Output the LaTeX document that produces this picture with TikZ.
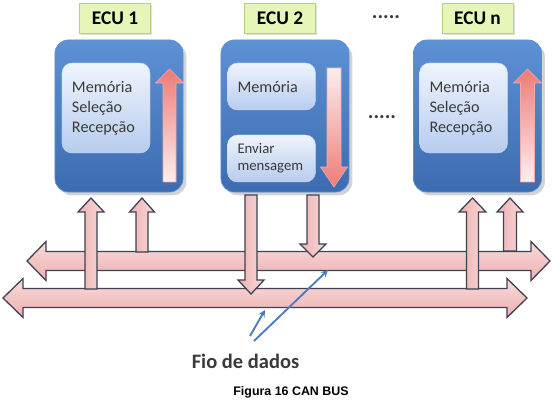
\documentclass[tikz,border=0pt]{standalone}
\usepackage{fontspec}
\setmainfont{Carlito}
\newfontfamily\arialfont{Liberation Sans}
\usetikzlibrary{shadows}

\definecolor{ecutop}{HTML}{5D90D5}
\definecolor{ecubot}{HTML}{3D6CB0}
\definecolor{ecuedge}{HTML}{5E8FD2}
\definecolor{memotop}{HTML}{EEF4FC}
\definecolor{memobot}{HTML}{B7CCEE}
\definecolor{memoedge}{HTML}{C9DAF3}
\definecolor{lblfill}{HTML}{E6F6B8}
\definecolor{lbledge}{HTML}{B5D07E}
\definecolor{txtgray}{HTML}{3A3A3A}
\definecolor{pinktop}{HTML}{F9DADA}
\definecolor{pinkbot}{HTML}{EDB0B0}
\definecolor{wireedge}{HTML}{3E4254}
\definecolor{flowred}{HTML}{EE7B76}
\definecolor{flowlight}{HTML}{FDEEEE}
\definecolor{flowedge}{HTML}{F2A9A9}
\definecolor{ptrblue}{HTML}{4A7EBB}

% fat double arrow: left tip, right tip, y, head length
\newcommand{\hbus}[4]{%
  \draw[busarrow] (#1,#3) -- ({#1+#4},{#3-19.5}) -- ({#1+#4},{#3-9.5})
    -- ({#2-#4},{#3-9.5}) -- ({#2-#4},{#3-19.5}) -- (#2,#3)
    -- ({#2-#4},{#3+19.5}) -- ({#2-#4},{#3+9.5}) -- ({#1+#4},{#3+9.5})
    -- ({#1+#4},{#3+19.5}) -- cycle;}
% fat vertical arrow: style, x, tail y, tip y, shaft half, head half, head length
\newcommand{\fatarrow}[7]{%
  \pgfmathsetmacro\arrL{(#4>#3)?#7:-#7}
  \draw[#1] ({#2-#5},#3) -- ({#2-#5},{#4-\arrL}) -- ({#2-#6},{#4-\arrL})
    -- (#2,#4) -- ({#2+#6},{#4-\arrL}) -- ({#2+#5},{#4-\arrL})
    -- ({#2+#5},#3) -- cycle;}

\begin{document}
\begin{tikzpicture}[
    x=0.03cm, y=-0.03cm,
    >=stealth,
    ecu/.style={rounded corners=0.4cm, minimum width=3.84cm, minimum height=4.56cm,
      top color=ecutop, bottom color=ecubot, draw=ecuedge, line width=0.6pt,
      drop shadow={shadow xshift=0.1cm, shadow yshift=-0.1cm, opacity=0.35}},
    memo/.style={rounded corners=0.3cm, top color=memotop, bottom color=memobot,
      draw=memoedge, text=txtgray, align=left, text width=2.04cm, inner xsep=0.3cm,
      font=\fontsize{13.8}{17}\selectfont},
    ecuname/.style={minimum width=2.13cm, minimum height=0.9cm, fill=lblfill, draw=lbledge,
      font=\bfseries\fontsize{16.5}{18}\selectfont,
      drop shadow={shadow xshift=0.05cm, shadow yshift=-0.05cm, opacity=0.25}},
    dots/.style={font=\bfseries\fontsize{18}{20}\selectfont, text=txtgray},
    busarrow/.style={top color=pinktop, bottom color=pinkbot, draw=wireedge, line width=1.1pt},
    wire/.style={left color=pinkbot, right color=pinktop, draw=wireedge, line width=1.1pt},
    upflow/.style={top color=flowred, bottom color=flowlight, draw=flowedge, line width=0.5pt},
    downflow/.style={top color=flowlight, bottom color=flowred, draw=flowedge, line width=0.5pt},
    ptr/.style={draw=ptrblue, line width=1.6pt}
]
  \useasboundingbox (0,0) rectangle (558,400);

  % ECU boxes
  \node[ecu] (ecu1) at (119,116) {};
  \node[ecu] (ecu2) at (285,116) {};
  \node[ecu] (ecun) at (477.5,116) {};

  % names
  \node[ecuname] (name1) at (115,18) {ECU 1};
  \node[ecuname] (name2) at (280,18) {ECU 2};
  \node[ecuname] (namen) at (477.5,18) {ECU n};
  \node[dots] (dotstop) at (386,17) {.....};
  \node[dots] (dotsmid) at (382,117) {.....};

  % inside the ECUs
  \node[memo, minimum height=2.7cm] (mem1) at (106,108) {Memória\\Seleção\\Recepção};
  \node[memo, minimum height=1.41cm] (mem2) at (271.5,86.5) {Memória};
  \node[memo, minimum height=1.41cm, font=\fontsize{12.6}{14.5}\selectfont] (send2) at (271.5,158.5) {Enviar\\mensagem};
  \node[memo, minimum height=2.7cm] (memn) at (463.5,108) {Memória\\Seleção\\Recepção};
  \fatarrow{upflow}{169.5}{182}{69}{6.5}{14}{14}
  \fatarrow{downflow}{334}{68}{187}{7}{13.5}{20}
  \fatarrow{upflow}{527.5}{182}{69}{7}{14}{14}

  % bus lines
  \hbus{27}{550}{261}{19}
  \hbus{3}{527}{298}{20}

  % wires between ECUs and bus
  \fatarrow{wire}{91}{289}{198}{6}{13}{14}
  \fatarrow{wire}{142}{252}{198}{6}{12.5}{14}
  \fatarrow{wire}{251}{195}{294}{6}{13}{14}
  \fatarrow{wire}{313}{195}{257}{6}{13}{13}
  \fatarrow{wire}{472.5}{289}{198}{6}{13.5}{14}
  \fatarrow{wire}{510}{251}{198}{6.5}{13}{14}

  % data wire pointers
  \node[font=\bfseries\fontsize{17.5}{20}\selectfont, text=txtgray] (fio) at (245.5,361) {Fio de dados};
  \coordinate (p1) at (250,336);
  \coordinate (p2) at (265,310);
  \coordinate (p3) at (254,341);
  \coordinate (p4) at (328,270);
  \draw[->, ptr] (p1) -- (p2);
  \draw[->, ptr] (p3) -- (p4);

  \node[font=\arialfont\bfseries\fontsize{10.6}{12}\selectfont] (cap) at (291,392) {Figura 16 CAN BUS};
\end{tikzpicture}
\end{document}
